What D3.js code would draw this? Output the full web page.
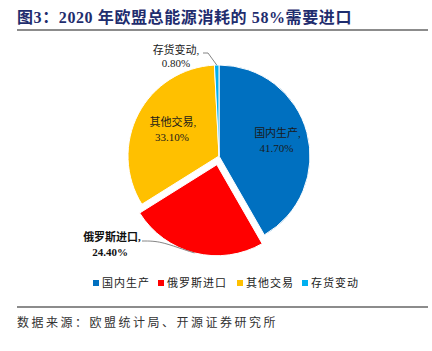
<!DOCTYPE html>
<html>
<head>
<meta charset="utf-8">
<script src="https://cdn.jsdelivr.net/npm/d3@7"></script>
<style>
  body { margin: 0; background: #fff; }
  svg { display: block; }
</style>
</head>
<body>
<div id="chart"></div>
<script>
// 2020 EU energy consumption sources (pie)

const categories = ["国内生产", "俄罗斯进口", "其他交易", "存货变动"];
const values = [41.7, 24.4, 33.1, 0.8];
const valueLabels = ["41.70%", "24.40%", "33.10%", "0.80%"];
const colors = ["#0070C0", "#FF0000", "#FFC000", "#00B0F0"];

const width = 432;
const height = 351;
const cx = 219, cy = 156, radius = 91;
const fontStack = "'Liberation Serif', 'Noto Sans CJK SC', serif";

const svg = d3.select("#chart")
    .append("svg")
    .attr("width", width)
    .attr("height", height);

// title
svg.append("text")
    .attr("x", 17)
    .attr("y", 23)
    .attr("fill", "#1F2D6E")
    .attr("font-family", fontStack)
    .attr("font-weight", "bold")
    .attr("font-size", 16)
    .attr("letter-spacing", 0.6)
    .text("图3：2020 年欧盟总能源消耗的 58%需要进口");

svg.append("line")
    .attr("x1", 17).attr("x2", 428)
    .attr("y1", 30).attr("y2", 30)
    .attr("stroke", "#666")
    .attr("stroke-width", 1.5);

const data = categories.map((c, i) => ({name: c, value: values[i], label: valueLabels[i], color: colors[i]}));

const pie = d3.pie().sort(null).value(d => d.value);
const arcs = pie(data);

const arc = d3.arc().innerRadius(0).outerRadius(radius);
const labelArc = d3.arc().innerRadius(radius * 0.62).outerRadius(radius * 0.62);

const g = svg.append("g").attr("transform", `translate(${cx},${cy})`);

const explode = 9;
function offset(d) {
    if (d.data.name !== "俄罗斯进口") return [0, 0];
    const a = (d.startAngle + d.endAngle) / 2;
    return [Math.sin(a) * explode, -Math.cos(a) * explode];
}

g.selectAll("path")
    .data(arcs)
    .join("path")
    .attr("d", arc)
    .attr("transform", d => `translate(${offset(d)})`)
    .attr("fill", d => d.data.color)
    .attr("stroke", "#fff")
    .attr("stroke-width", 1);

// inside labels
const inside = arcs.filter(d => d.data.name === "国内生产" || d.data.name === "其他交易");
inside.forEach(d => {
    const [x, y] = labelArc.centroid(d);
    const t = g.append("text")
        .attr("text-anchor", "middle")
        .attr("font-family", fontStack)
        .attr("font-size", 11)
        .attr("fill", "#1a1a1a");
    t.append("tspan").attr("x", x + 4).attr("y", y - 4).text(d.data.name + ",");
    t.append("tspan").attr("x", x + 3).attr("y", y + 11).text(d.data.label);
});

// Russia label (outside, bold)
const ru = arcs[1];
const [ox, oy] = offset(ru);
const ruPoint = [ox + Math.sin(3.39) * radius, oy - Math.cos(3.39) * radius];
g.append("path")
    .attr("d", d3.line().curve(d3.curveBasis)([[-77, 85], [-60, 85], [-40, 92], ruPoint]))
    .attr("fill", "none")
    .attr("stroke", "#666")
    .attr("stroke-width", 0.8);
const ruText = g.append("text")
    .attr("text-anchor", "middle")
    .attr("font-family", fontStack)
    .attr("font-size", 11)
    .attr("font-weight", "bold")
    .attr("fill", "#111");
ruText.append("tspan").attr("x", -107).attr("y", 85).text(ru.data.name + ",");
ruText.append("tspan").attr("x", -109).attr("y", 100).text(ru.data.label);

// storage label (outside)
const st = arcs[3];
const stA = (st.startAngle + st.endAngle) / 2;
const stPoint = [Math.sin(stA) * radius, -Math.cos(stA) * radius];
g.append("polyline")
    .attr("points", [[-16, -103], [-11, -103], stPoint].map(p => p.join(",")).join(" "))
    .attr("fill", "none")
    .attr("stroke", "#666")
    .attr("stroke-width", 0.8);
const stText = g.append("text")
    .attr("text-anchor", "middle")
    .attr("font-family", fontStack)
    .attr("font-size", 11)
    .attr("fill", "#1a1a1a");
stText.append("tspan").attr("x", -43).attr("y", -102).text(st.data.name + ",");
stText.append("tspan").attr("x", -43).attr("y", -89).text(st.data.label);

// legend
const legendX = [93, 158, 237, 302];
const legend = svg.append("g");
data.forEach((d, i) => {
    legend.append("rect")
        .attr("x", legendX[i])
        .attr("y", 280)
        .attr("width", 6)
        .attr("height", 6)
        .attr("fill", d.color);
    legend.append("text")
        .attr("x", legendX[i] + 9)
        .attr("y", 287)
        .attr("font-family", fontStack)
        .attr("font-size", 11)
        .attr("letter-spacing", 1)
        .attr("fill", "#222")
        .text(d.name);
});

// footer
svg.append("line")
    .attr("x1", 17).attr("x2", 428)
    .attr("y1", 307).attr("y2", 307)
    .attr("stroke", "#666")
    .attr("stroke-width", 1.5);

svg.append("text")
    .attr("x", 17)
    .attr("y", 327)
    .attr("font-family", fontStack)
    .attr("font-size", 12)
    .attr("letter-spacing", 2.5)
    .attr("fill", "#333")
    .text("数据来源：欧盟统计局、开源证券研究所");
</script>
</body>
</html>
